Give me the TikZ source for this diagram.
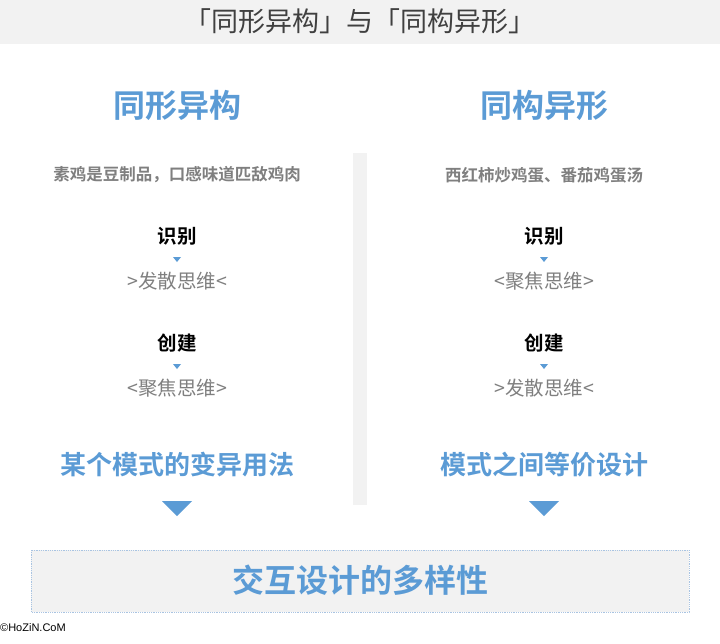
\documentclass[tikz,border=0pt]{standalone}
\usepackage{fontspec}
\newfontfamily\cjk{Noto Sans CJK SC}
\newfontfamily\cjkb{Noto Sans CJK SC Bold}
\setmainfont{Liberation Sans}
\definecolor{barbg}{HTML}{F2F2F2}
\definecolor{blu}{HTML}{5B9BD5}
\definecolor{txtgray}{HTML}{7F7F7F}
\definecolor{titlegray}{HTML}{404040}
\definecolor{boxborder}{HTML}{A9C4E2}
\tikzset{
  heading/.style={font=\cjkb\fontsize{32}{32}\selectfont, text=blu},
  subline/.style={font=\cjkb\fontsize{16.5}{17}\selectfont, text=txtgray},
  stage/.style={font=\cjkb\fontsize{19.5}{20}\selectfont, text=black},
  mode/.style={font=\cjk\fontsize{19.5}{20}\selectfont, text=txtgray},
  result/.style={font=\cjkb\fontsize{26}{26}\selectfont, text=blu},
  smalltri/.style={fill=blu},
  bigtri/.style={fill=blu},
}
\begin{document}
\begin{tikzpicture}[x=1pt,y=-1pt]
\useasboundingbox (0,0) rectangle (720,643);
% top bar
\fill[barbg] (0,0) rectangle (720,44);
\node[font=\cjk\fontsize{27}{27}\selectfont, text=titlegray] (title) at (360,21) {「同形异构」与「同构异形」};
% vertical separator
\fill[barbg] (353,153) rectangle (367,505);
% left column
\node[heading] (lh) at (177,105) {同形异构};
\node[subline] (ls) at (177,175) {素鸡是豆制品，口感味道匹敌鸡肉};
\node[stage] (l1) at (177,236) {识别};
\fill[smalltri] (173,257) -- (181,257) -- (177,262) -- cycle;
\node[mode] (l1m) at (177,281) {>发散思维<};
\node[stage] (l2) at (177,343) {创建};
\fill[smalltri] (173,364) -- (181,364) -- (177,369) -- cycle;
\node[mode] (l2m) at (177,388) {<聚焦思维>};
\node[result] (lr) at (177,465) {某个模式的变异用法};
\fill[bigtri] (162,501) -- (192,501) -- (177,516) -- cycle;
% right column
\node[heading] (rh) at (544,105) {同构异形};
\node[subline] (rs) at (544,175) {西红柿炒鸡蛋、番茄鸡蛋汤};
\node[stage] (r1) at (544,236) {识别};
\fill[smalltri] (540,257) -- (548,257) -- (544,262) -- cycle;
\node[mode] (r1m) at (544,281) {<聚焦思维>};
\node[stage] (r2) at (544,343) {创建};
\fill[smalltri] (540,364) -- (548,364) -- (544,369) -- cycle;
\node[mode] (r2m) at (544,388) {>发散思维<};
\node[result] (rr) at (544,465) {模式之间等价设计};
\fill[bigtri] (529,501) -- (559,501) -- (544,516) -- cycle;
% bottom box
\draw[fill=barbg, draw=boxborder, densely dotted, line width=0.8pt] (31,550) rectangle (689,612);
\node[font=\cjkb\fontsize{32}{32}\selectfont, text=blu] (bottom) at (360,580) {交互设计的多样性};
\node[anchor=west, inner sep=0pt, font=\fontsize{11}{12}\selectfont] (copy) at (0,628) {©HoZiN.CoM};
\end{tikzpicture}
\end{document}
